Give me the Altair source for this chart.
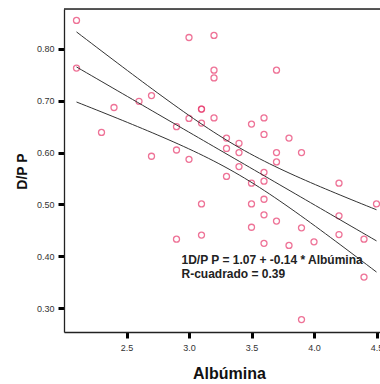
import altair as alt
import numpy as np
import pandas as pd

# Albúmina (x) and D/P P (y)
albumina = [2.1, 2.1, 2.3, 2.4, 2.6, 2.7, 2.7, 2.9, 2.9, 2.9,
            3.0, 3.0, 3.0, 3.1, 3.1, 3.1, 3.1, 3.1, 3.2, 3.2,
            3.2, 3.2, 3.3, 3.3, 3.3, 3.4, 3.4, 3.4, 3.5, 3.5,
            3.5, 3.5, 3.6, 3.6, 3.6, 3.6, 3.6, 3.6, 3.6, 3.7,
            3.7, 3.7, 3.7, 3.8, 3.8, 3.9, 3.9, 3.9, 4.0, 4.2,
            4.2, 4.2, 4.4, 4.4, 4.5]
dpp = [0.855, 0.763, 0.639, 0.687, 0.699, 0.710, 0.593, 0.650, 0.605, 0.433,
       0.822, 0.666, 0.587, 0.684, 0.684, 0.657, 0.501, 0.441, 0.826, 0.759,
       0.744, 0.667, 0.628, 0.608, 0.554, 0.618, 0.600, 0.573, 0.655, 0.541,
       0.501, 0.456, 0.667, 0.635, 0.562, 0.545, 0.510, 0.480, 0.425, 0.759,
       0.600, 0.582, 0.468, 0.628, 0.421, 0.600, 0.455, 0.278, 0.428, 0.541,
       0.478, 0.442, 0.433, 0.360, 0.501]

x_ticks = [2.5, 3.0, 3.5, 4.0, 4.5]
y_ticks = [0.30, 0.40, 0.50, 0.60, 0.70, 0.80]
annot = ["1D/P P = 1.07 + -0.14 * Albúmina", "R-cuadrado = 0.39"]

# Linear fit and 95% confidence band for the mean
x = np.array(albumina)
y = np.array(dpp)
n = len(x)
b1, b0 = np.polyfit(x, y, 1)
resid = y - (b0 + b1 * x)
s = np.sqrt(np.sum(resid ** 2) / (n - 2))
sxx = np.sum((x - x.mean()) ** 2)
t = 2.006
xg = np.linspace(x.min(), x.max(), 60)
fit = b0 + b1 * xg
half = t * s * np.sqrt(1.0 / n + (xg - x.mean()) ** 2 / sxx)
fit_df = pd.DataFrame({"x": xg, "fit": fit, "lo": fit - half, "hi": fit + half})

pts = pd.DataFrame({"Albúmina": albumina, "DPP": dpp})

FONT = "Liberation Sans"
xscale = alt.Scale(domain=[2.0, 4.528], nice=False, zero=False)
yscale = alt.Scale(domain=[0.254, 0.877], nice=False, zero=False)

xaxis = alt.Axis(values=x_ticks, format=".1f", title="Albúmina", grid=False,
                 domainColor="#222", domainWidth=1.3, tickColor="#000", tickWidth=3,
                 tickSize=6, labelFont=FONT, labelFontSize=9, labelColor="#333",
                 labelPadding=5, titleFont=FONT, titleFontSize=16, titleFontWeight="bold",
                 titleColor="#111", titleX=165, titleY=46, titleBaseline="alphabetic",
                 titleAlign="center")
yaxis = alt.Axis(values=y_ticks, format=".2f", title="D/P P", grid=False,
                 domainColor="#222", domainWidth=1.3, tickColor="#000", tickWidth=3,
                 tickSize=6, labelFont=FONT, labelFontSize=9, labelColor="#333",
                 labelPadding=4, titleFont=FONT, titleFontSize=14, titleFontWeight="bold",
                 titleColor="#111", titleX=-38, titleY=162, titleBaseline="alphabetic",
                 titleAlign="center", titleAngle=270)

points = alt.Chart(pts).mark_point(shape="circle", filled=False, size=36,
                                   strokeWidth=1.3, color="#e8386c", clip=True).encode(
    x=alt.X("Albúmina:Q", scale=xscale, axis=xaxis),
    y=alt.Y("DPP:Q", scale=yscale, axis=yaxis),
)

def band_line(col):
    return alt.Chart(fit_df).mark_line(color="#333", strokeWidth=1, clip=True).encode(
        x=alt.X("x:Q", scale=xscale),
        y=alt.Y(f"{col}:Q", scale=yscale),
    )

top_border = alt.Chart(pd.DataFrame({"a": [0]})).mark_rule(color="#222", strokeWidth=1.3).encode(
    x=alt.value(0), x2=alt.value(316), y=alt.value(0)
)

def annot_text(i, ypix):
    return alt.Chart(pd.DataFrame({"t": [annot[i]]})).mark_text(
        font=FONT, fontSize=12, fontWeight="bold", color="#222",
        align="left", baseline="alphabetic").encode(
        x=alt.value(117.5), y=alt.value(ypix), text="t:N")

chart = alt.layer(points, band_line("hi"), band_line("fit"), band_line("lo"), top_border,
                  annot_text(0, 254.5), annot_text(1, 269)).properties(
    width=316, height=323,
    autosize=alt.AutoSizeParams(type="none"),
    padding={"left": 64, "top": 9, "right": 0, "bottom": 52},
).configure_view(stroke=None).configure(background="white")

chart.save("out.html", embed_options={"renderer": "svg", "actions": False})
